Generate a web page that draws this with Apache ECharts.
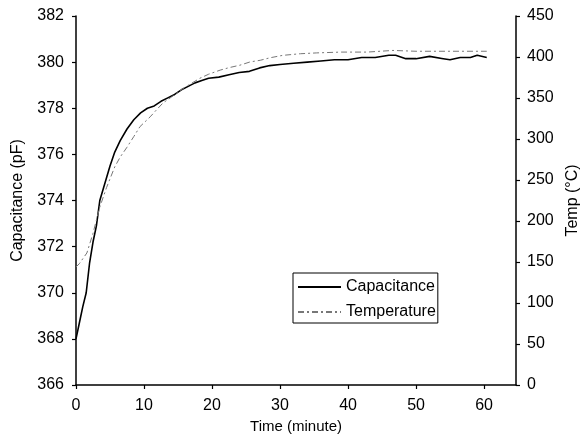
<!DOCTYPE html>
<html>
<head>
<meta charset="utf-8">
<script src="https://cdn.jsdelivr.net/npm/echarts@6/dist/echarts.min.js"></script>
<style>
  html, body { margin: 0; padding: 0; background: #fff; }
  #chart { width: 581px; height: 447px; }
</style>
</head>
<body>
<div id="chart"></div>
<script>
// capacitance (pF), left axis
const capTime = [0, 0.5, 1, 1.5, 2, 2.5, 3, 3.5, 4, 4.5, 5, 5.7, 6.5, 7.5, 8.5, 9.5, 10.5, 11.5, 12.5, 13.5,
  14.5, 15.5, 16.5, 17.5, 18.5, 19.5, 21, 22.5, 24, 25.5, 27, 28.5, 30, 32, 34, 36, 38, 40, 42, 44,
  46, 47, 48.5, 50, 52, 54, 55, 56.5, 58, 59, 60.4];
const capValues = [368.0, 368.7, 369.4, 370.0, 371.3, 372.2, 372.9, 374.0, 374.5, 375.0, 375.5, 376.1, 376.6, 377.1, 377.5, 377.8, 378.0, 378.1, 378.3, 378.45,
  378.6, 378.8, 378.95, 379.1, 379.2, 379.3, 379.35, 379.45, 379.55, 379.6, 379.75, 379.85, 379.9, 379.95, 380.0, 380.05, 380.1, 380.1, 380.2, 380.2,
  380.3, 380.3, 380.15, 380.15, 380.25, 380.15, 380.1, 380.2, 380.2, 380.3, 380.2];

// temperature (°C), right axis
const tempTime = [0, 0.5, 1, 1.6, 2.5, 3.5, 4.5, 5.7, 6.5, 7.5, 8.5, 9.4, 10.9, 12, 12.8, 14, 14.8, 16, 17, 18.2,
  19.5, 21.2, 22.5, 24.1, 25.6, 27.1, 28.5, 30.4, 33, 35.4, 39, 42.8, 46.6, 50, 55, 60.4];
const tempValues = [144, 148, 154, 161, 185, 217, 241, 266, 278, 290, 303, 315, 327, 337, 344, 351, 356, 363, 368, 374,
  379, 384, 387, 390, 394, 396, 399, 402, 404, 405, 406, 406, 408, 407, 407, 407];

const font = 'Liberation Sans, Arial, sans-serif';

function pairs(xs, ys) {
  return xs.map((x, i) => [x, ys[i]]);
}

const chart = echarts.init(document.getElementById('chart'));

const axisCommon = {
  axisLine: { show: true, lineStyle: { color: '#000', width: 1.5 } },
  axisTick: { show: true, length: 4, lineStyle: { color: '#000', width: 1.2 } },
  splitLine: { show: false },
  axisLabel: { color: '#000', fontSize: 16, fontFamily: font },
  nameTextStyle: { color: '#000', fontSize: 16, fontFamily: font }
};

chart.setOption({
  animation: false,
  backgroundColor: '#fff',
  grid: { left: 76, right: 65, top: 16, bottom: 62, outerBoundsMode: 'none', containLabel: false },
  legend: {
    left: 293, top: 273,
    orient: 'vertical',
    itemWidth: 43, itemHeight: 16, itemGap: 9,
    padding: [6, 2, 3, 4],
    borderColor: '#000', borderWidth: 1, borderRadius: 0,
    itemStyle: { opacity: 0 },
    textStyle: { color: '#000', fontSize: 16, fontFamily: font, lineHeight: 16 },
    data: ['Capacitance', 'Temperature']
  },
  xAxis: Object.assign({}, axisCommon, {
    type: 'value',
    min: 0, max: 64.7, interval: 10,
    name: 'Time (minute)', nameLocation: 'middle', nameGap: 34,
    nameTextStyle: { color: '#000', fontSize: 15, fontFamily: font, verticalAlign: 'top' },
    axisLabel: Object.assign({}, axisCommon.axisLabel, { margin: 13, showMaxLabel: false })
  }),
  yAxis: [
    Object.assign({}, axisCommon, {
      type: 'value', position: 'left',
      min: 366, max: 382, interval: 2,
      name: 'Capacitance (pF)', nameLocation: 'middle', nameGap: 50, nameRotate: 90,
      axisLabel: Object.assign({}, axisCommon.axisLabel, { margin: 12 })
    }),
    Object.assign({}, axisCommon, {
      type: 'value', position: 'right',
      min: 0, max: 450, interval: 50,
      name: 'Temp (°C)', nameLocation: 'middle', nameGap: 48, nameRotate: 90,
      axisLabel: Object.assign({}, axisCommon.axisLabel, { margin: 11 })
    })
  ],
  series: [
    {
      name: 'Capacitance', type: 'line', yAxisIndex: 0,
      showSymbol: false, symbol: 'none',
      lineStyle: { color: '#000', width: 1.6 },
      itemStyle: { color: '#000' },
      data: pairs(capTime, capValues)
    },
    {
      name: 'Temperature', type: 'line', yAxisIndex: 1,
      showSymbol: false, symbol: 'none',
      lineStyle: { color: '#777', width: 1, type: [6, 3, 2, 3] },
      itemStyle: { color: '#777' },
      data: pairs(tempTime, tempValues)
    }
  ]
});
</script>
</body>
</html>
